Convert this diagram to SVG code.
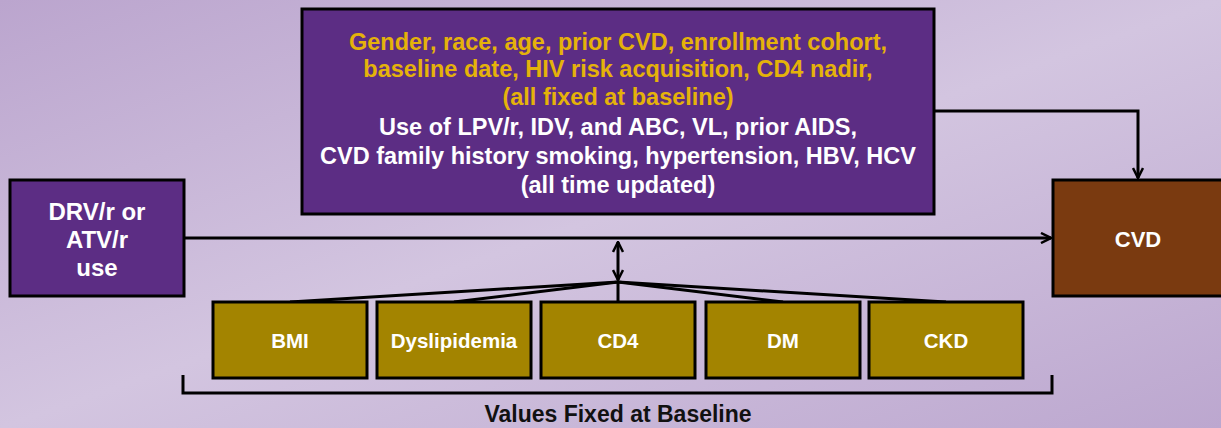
<svg xmlns="http://www.w3.org/2000/svg" width="1221" height="428" viewBox="0 0 1221 428">
<defs>
<linearGradient id="bg" x1="0" y1="0" x2="1" y2="1">
<stop offset="0" stop-color="#bba5ce"/>
<stop offset="0.5" stop-color="#d3c5e0"/>
<stop offset="1" stop-color="#bca7cf"/>
</linearGradient>
<marker id="ah" viewBox="0 0 12 12" refX="11" refY="6" markerWidth="12" markerHeight="12" markerUnits="userSpaceOnUse" orient="auto-start-reverse">
<path d="M1,1 L11,6 L1,11" fill="none" stroke="#000" stroke-width="2.5" stroke-linejoin="miter"/>
</marker>
<style>
.box{stroke:#000;stroke-width:3}
.purple{fill:#5c2d84}
.brown{fill:#7a3a10}
.gold{fill:#a38400}
.t{font-family:"Liberation Sans",Arial,sans-serif;font-weight:bold;text-anchor:middle}
.w{fill:#fff}
.y{fill:#e5b20a}
.c{fill:none;stroke:#000;stroke-width:3}
</style>
</defs>
<rect width="1221" height="428" fill="url(#bg)"/>
<g id="connectors">
<line class="c" x1="184" y1="238" x2="1051" y2="238" marker-end="url(#ah)"/>
<polyline class="c" points="934,111 1138,111 1138,178" marker-end="url(#ah)"/>
<line class="c" x1="618" y1="242" x2="618" y2="280" marker-start="url(#ah)" marker-end="url(#ah)"/>
<line class="c" x1="618" y1="282" x2="290" y2="302"/>
<line class="c" x1="618" y1="282" x2="454" y2="302"/>
<line class="c" x1="618" y1="282" x2="618" y2="302"/>
<line class="c" x1="618" y1="282" x2="783" y2="302"/>
<line class="c" x1="618" y1="282" x2="946" y2="302"/>
<polyline class="c" points="183,375 183,393 1052,393 1052,375"/>
</g>
<g id="confounders">
<rect class="box purple" x="302" y="9" width="632" height="205"/>
<text class="t y" font-size="23.5" x="618" y="50">Gender, race, age, prior CVD, enrollment cohort,</text>
<text class="t y" font-size="23.5" x="618" y="77">baseline date, HIV risk acquisition, CD4 nadir,</text>
<text class="t y" font-size="23.5" x="618" y="105">(all fixed at baseline)</text>
<text class="t w" font-size="23.5" x="618" y="135">Use of LPV/r, IDV, and ABC, VL, prior AIDS,</text>
<text class="t w" font-size="23.5" x="618" y="164">CVD family history smoking, hypertension, HBV, HCV</text>
<text class="t w" font-size="23.5" x="618" y="193">(all time updated)</text>
</g>
<g id="exposure">
<rect class="box purple" x="10" y="180" width="174" height="116"/>
<text class="t w" font-size="24" x="97" y="220">DRV/r or</text>
<text class="t w" font-size="24" x="97" y="248">ATV/r</text>
<text class="t w" font-size="24" x="97" y="276">use</text>
</g>
<g id="outcome">
<rect class="box brown" x="1053" y="180" width="180" height="116"/>
<text class="t w" font-size="22" x="1138" y="247">CVD</text>
</g>
<g id="bmi"><rect class="box gold" x="213" y="302" width="154" height="76"/><text class="t w" font-size="20.5" x="290" y="348">BMI</text></g>
<g id="dyslipidemia"><rect class="box gold" x="377" y="302" width="154" height="76"/><text class="t w" font-size="20.5" x="454" y="348">Dyslipidemia</text></g>
<g id="cd4"><rect class="box gold" x="541" y="302" width="154" height="76"/><text class="t w" font-size="20.5" x="618" y="348">CD4</text></g>
<g id="dm"><rect class="box gold" x="706" y="302" width="154" height="76"/><text class="t w" font-size="20.5" x="783" y="348">DM</text></g>
<g id="ckd"><rect class="box gold" x="869" y="302" width="154" height="76"/><text class="t w" font-size="20.5" x="946" y="348">CKD</text></g>
<text class="t" font-size="23" fill="#111" x="618" y="422">Values Fixed at Baseline</text>
</svg>
